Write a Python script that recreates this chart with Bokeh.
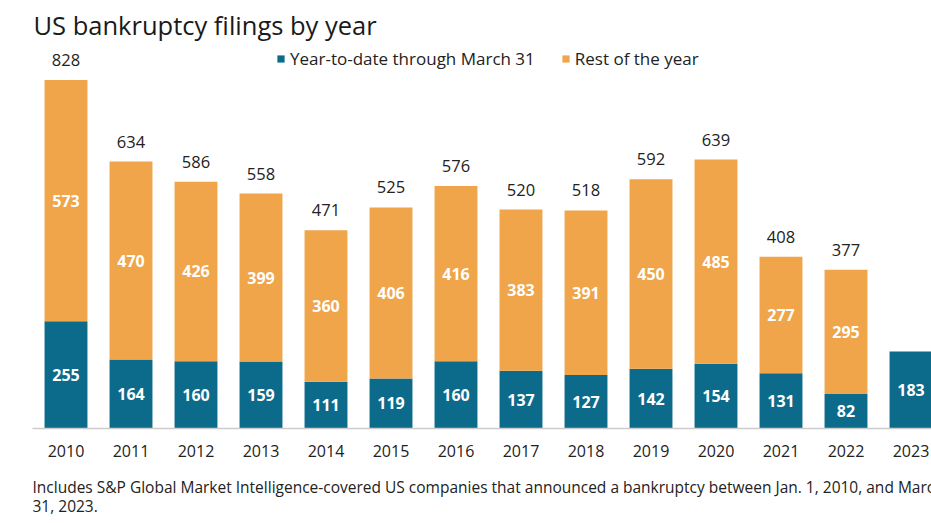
from bokeh.plotting import figure
from bokeh.models import ColumnDataSource, FixedTicker, Legend, LegendItem, Label, Range1d, Title
from bokeh.core.properties import value
from bokeh.embed import file_html
from bokeh.resources import INLINE

years = [2010, 2011, 2012, 2013, 2014, 2015, 2016, 2017, 2018, 2019, 2020, 2021, 2022, 2023]
ytd = [255, 164, 160, 159, 111, 119, 160, 137, 127, 142, 154, 131, 82, 183]
rest = [573, 470, 426, 399, 360, 406, 416, 383, 391, 450, 485, 277, 295, None]
totals = [828, 634, 586, 558, 471, 525, 576, 520, 518, 592, 639, 408, 377, None]

TITLE = "US bankruptcy filings by year"
NOTE = ("Includes S&P Global Market Intelligence-covered US companies that announced a bankruptcy between Jan. 1, 2010, and March\n"
        "31, 2023.")

BLUE = "#0c6b8b"
ORANGE = "#f0a54a"
FONT = "Open Sans"
TXT = "#222222"

# derived data for drawing
r_years = [y for y, r in zip(years, rest) if r is not None]
r_ytd = [a for a, r in zip(ytd, rest) if r is not None]
r_rest = [r for r in rest if r is not None]
r_tot = [t for t in totals if t is not None]

blue_src = ColumnDataSource(dict(x=years, top=ytd, mid=[v / 2 for v in ytd], lab=[str(v) for v in ytd]))
orange_src = ColumnDataSource(dict(
    x=r_years, bottom=r_ytd, top=[a + b for a, b in zip(r_ytd, r_rest)],
    mid=[a + b / 2 for a, b in zip(r_ytd, r_rest)], lab=[str(v) for v in r_rest],
    tot=r_tot, totlab=[str(v) for v in r_tot]))

W, H = 931, 523
BOTTOM, LEFT = 95, 32
p = figure(width=W, height=H, output_backend="svg", toolbar_location=None, title=None,
           x_range=Range1d(2009.4846, 2023.3154), y_range=Range1d(0, 1016.7),
           min_border_left=LEFT, min_border_right=0, min_border_top=0, min_border_bottom=BOTTOM)

vb = p.vbar(x="x", top="top", bottom=0, width=0.66, source=blue_src, fill_color=BLUE, line_color=None)
vo = p.vbar(x="x", top="top", bottom="bottom", width=0.66, source=orange_src, fill_color=ORANGE, line_color=None)

p.text(x="x", y="mid", text="lab", source=blue_src, text_align="center", text_baseline="middle",
       text_font=value(FONT), text_font_size="16px", text_font_style="bold", text_color="white")
p.text(x="x", y="mid", text="lab", source=orange_src, text_align="center", text_baseline="middle",
       text_font=value(FONT), text_font_size="16px", text_font_style="bold", text_color="white")
p.text(x="x", y="tot", text="totlab", source=orange_src, text_align="center", text_baseline="middle",
       y_offset=-20, text_font=value(FONT), text_font_size="16.5px", text_color=TXT)

legend = Legend(items=[LegendItem(label="Year-to-date through March 31", renderers=[vb]),
                       LegendItem(label="Rest of the year", renderers=[vo])],
                orientation="horizontal", location=(244, 358))
legend.padding = 0
legend.margin = 0
legend.spacing = 26
legend.glyph_width = 9
legend.glyph_height = 9
legend.label_standoff = 5
legend.label_text_font = FONT
legend.label_text_font_size = "17px"
legend.label_text_color = TXT
legend.border_line_alpha = 0
legend.background_fill_alpha = 0
p.add_layout(legend, "center")

# chart title inside the (full-height) plot frame, in screen pixels from the frame's bottom-left
frame_h = H - BOTTOM
p.add_layout(Label(x=1, y=frame_h - 24, x_units="screen", y_units="screen", text=TITLE,
                   text_font=FONT, text_font_size="25.5px", text_color="#1a1a1a",
                   text_baseline="alphabetic", text_align="left"))

p.xaxis.ticker = FixedTicker(ticks=years)
p.xaxis.major_tick_line_color = None
p.xaxis.minor_tick_line_color = None
p.xaxis.axis_line_color = "#cccccc"
p.xaxis.axis_line_width = 1.5
p.xaxis.major_label_standoff = 10
p.xaxis.major_label_text_font = FONT
p.xaxis.major_label_text_font_size = "16px"
p.xaxis.major_label_text_color = TXT
p.xaxis.axis_label = " "
p.xaxis.axis_label_standoff = 0
p.xaxis.axis_label_text_font_size = "10px"
p.yaxis.visible = False
p.xgrid.visible = False
p.ygrid.visible = False
p.outline_line_color = None

foot = Title(text=NOTE, text_font=FONT, text_font_size="15.5px", text_font_style="normal",
             text_color=TXT, text_line_height=0.9, standoff=0, offset=0, align="left")
p.add_layout(foot, "below")

open("out.html", "w").write(file_html(p, INLINE))
